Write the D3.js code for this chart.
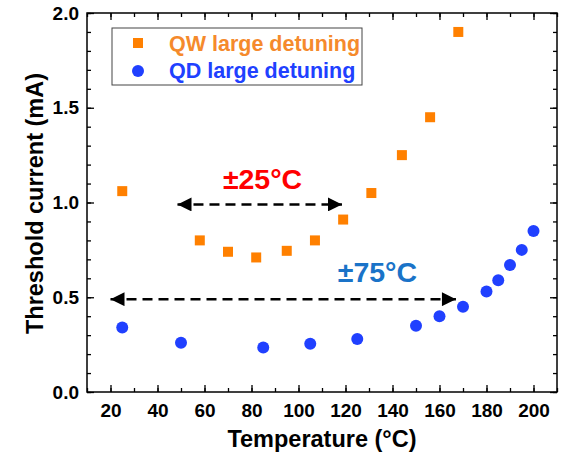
<!DOCTYPE html>
<html>
<head>
<meta charset="utf-8"/>
<title>Threshold current vs temperature</title>
<script src="https://d3js.org/d3.v7.min.js"></script>
<style>
    body { margin: 0; background: #fff; }
    svg text { font-family: "Liberation Sans", Arial, sans-serif; font-weight: bold; }
    .axis path { display: none; }
    .axis line { stroke: #000; stroke-width: 1.3px; }
    .axis text { font-size: 19px; fill: #000; }
</style>
</head>
<body>
<div id="chart"></div>
<script>
    // QW large detuning
    var qwTemp = [25, 58, 70, 82, 95, 107, 119, 131, 144, 156, 168];
    var qwCurrent = [1.06, 0.80, 0.74, 0.71, 0.745, 0.80, 0.91, 1.05, 1.25, 1.45, 1.90];
    // QD large detuning
    var qdTemp = [25, 50, 85, 105, 125, 150, 160, 170, 180, 185, 190, 195, 200];
    var qdCurrent = [0.34, 0.26, 0.235, 0.255, 0.28, 0.35, 0.40, 0.45, 0.53, 0.59, 0.67, 0.75, 0.85];

    var xTicks = [20, 40, 60, 80, 100, 120, 140, 160, 180, 200];
    var yTicks = [0.0, 0.5, 1.0, 1.5, 2.0];

    // annotation arrows: [from, to, current]
    var arrow25 = [48.5, 118.5, 0.99];
    var arrow75 = [20, 167, 0.49];

    var width = 563, height = 457;
    var margin = {top: 13, right: 6, bottom: 65, left: 87};
    var w = width - margin.left - margin.right,
        h = height - margin.top - margin.bottom;

    var x = d3.scaleLinear().domain([10, 210]).range([0, w]);
    var y = d3.scaleLinear().domain([0, 2.0]).range([h, 0]);

    var svg = d3.select("#chart").append("svg")
        .attr("width", width)
        .attr("height", height);

    var defs = svg.append("defs");
    defs.append("marker")
        .attr("id", "head")
        .attr("viewBox", "0 0 10 10")
        .attr("refX", 10).attr("refY", 5)
        .attr("markerUnits", "userSpaceOnUse")
        .attr("markerWidth", 16).attr("markerHeight", 14)
        .attr("orient", "auto-start-reverse")
        .append("path")
        .attr("d", "M0,0L10,5L0,10Z")
        .attr("fill", "#000");

    var g = svg.append("g")
        .attr("transform", "translate(" + margin.left + "," + margin.top + ")");

    var minorX = d3.range(10, 211, 10);
    var minorY = d3.range(0, 2.01, 0.1);

    // minor ticks, all four sides
    g.append("g").attr("class", "axis")
        .attr("transform", "translate(0," + h + ")")
        .call(d3.axisBottom(x).tickValues(minorX).tickSize(-4).tickFormat(""));
    g.append("g").attr("class", "axis")
        .call(d3.axisTop(x).tickValues(minorX).tickSize(-4).tickFormat(""));
    g.append("g").attr("class", "axis")
        .call(d3.axisLeft(y).tickValues(minorY).tickSize(-4).tickFormat(""));
    g.append("g").attr("class", "axis")
        .attr("transform", "translate(" + w + ",0)")
        .call(d3.axisRight(y).tickValues(minorY).tickSize(-4).tickFormat(""));

    // major ticks
    g.append("g").attr("class", "axis")
        .attr("transform", "translate(0," + h + ")")
        .call(d3.axisBottom(x).tickValues(xTicks).tickSize(-7).tickPadding(12).tickFormat(d3.format("d")));
    g.append("g").attr("class", "axis")
        .call(d3.axisTop(x).tickValues(xTicks).tickSize(-7).tickFormat(""));
    g.append("g").attr("class", "axis")
        .call(d3.axisLeft(y).tickValues(yTicks).tickSize(-7).tickPadding(8).tickFormat(d3.format(".1f")));
    g.append("g").attr("class", "axis")
        .attr("transform", "translate(" + w + ",0)")
        .call(d3.axisRight(y).tickValues(yTicks).tickSize(-7).tickFormat(""));

    g.append("rect")
        .attr("width", w).attr("height", h)
        .attr("fill", "none")
        .attr("stroke", "#000")
        .attr("stroke-width", 1.5);

    // arrows
    [arrow25, arrow75].forEach(function(a){
        g.append("line")
            .attr("x1", x(a[0])).attr("x2", x(a[1]))
            .attr("y1", y(a[2])).attr("y2", y(a[2]))
            .attr("stroke", "#000")
            .attr("stroke-width", 2.5)
            .attr("stroke-dasharray", "10,6")
            .attr("marker-start", "url(#head)")
            .attr("marker-end", "url(#head)");
    });

    g.append("text")
        .attr("x", x(84.7)).attr("y", y(1.069))
        .attr("text-anchor", "middle")
        .attr("fill", "#ff0000")
        .style("font-size", "28.5px")
        .text("±25°C");
    g.append("text")
        .attr("x", x(133.6)).attr("y", y(0.578))
        .attr("text-anchor", "middle")
        .attr("fill", "#1a73c8")
        .style("font-size", "28.5px")
        .text("±75°C");

    // QW squares
    var sq = 10;
    g.selectAll(".qw")
        .data(qwTemp.map(function(t, i){ return [t, qwCurrent[i]]; }))
        .enter().append("rect")
        .attr("class", "qw")
        .attr("x", function(d){ return x(d[0]) - sq / 2; })
        .attr("y", function(d){ return y(d[1]) - sq / 2; })
        .attr("width", sq).attr("height", sq)
        .attr("fill", "#ff8000");

    // QD circles
    g.selectAll(".qd")
        .data(qdTemp.map(function(t, i){ return [t, qdCurrent[i]]; }))
        .enter().append("circle")
        .attr("class", "qd")
        .attr("cx", function(d){ return x(d[0]); })
        .attr("cy", function(d){ return y(d[1]); })
        .attr("r", 6)
        .attr("fill", "#2040ff");

    // legend
    var leg = g.append("g").attr("transform", "translate(25,15)");
    leg.append("rect")
        .attr("width", 250).attr("height", 57)
        .attr("fill", "#fff")
        .attr("stroke", "#444")
        .attr("stroke-width", 1);
    leg.append("rect")
        .attr("x", 26 - sq / 2).attr("y", 15 - sq / 2)
        .attr("width", sq).attr("height", sq)
        .attr("fill", "#ff8000");
    leg.append("circle")
        .attr("cx", 26).attr("cy", 43).attr("r", 6)
        .attr("fill", "#2040ff");
    leg.append("text")
        .attr("x", 57).attr("y", 23)
        .attr("fill", "#f58a2c")
        .style("font-size", "21.5px")
        .text("QW large detuning");
    leg.append("text")
        .attr("x", 57).attr("y", 50)
        .attr("fill", "#2040ff")
        .style("font-size", "21.5px")
        .text("QD large detuning");

    // axis titles
    g.append("text")
        .attr("x", w / 2).attr("y", h + 55)
        .attr("text-anchor", "middle")
        .style("font-size", "23.5px")
        .text("Temperature (°C)");
    g.append("text")
        .attr("transform", "translate(-44," + (h / 2 + 1) + ") rotate(-90)")
        .attr("text-anchor", "middle")
        .style("font-size", "23.5px")
        .text("Threshold current (mA)");
</script>
</body>
</html>
